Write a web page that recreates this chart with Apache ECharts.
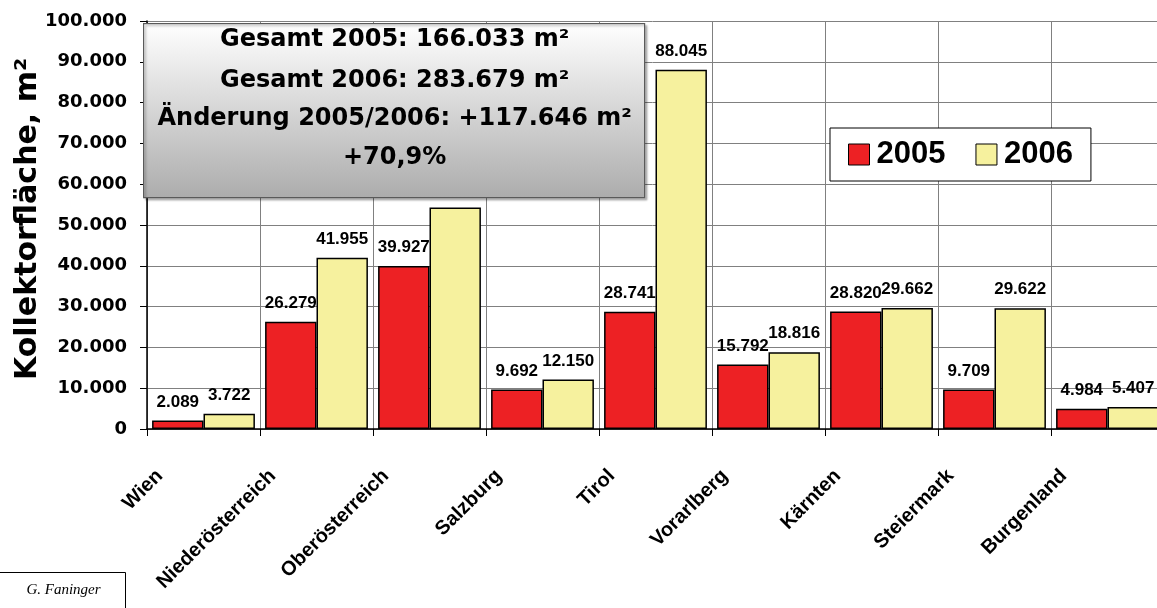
<!DOCTYPE html>
<html><head><meta charset="utf-8">
<script src="https://cdn.jsdelivr.net/npm/echarts@6/dist/echarts.min.js"></script>
<style>html,body{margin:0;padding:0;background:#fff}#c{width:1157px;height:608px}</style>
</head><body><div id="c"></div>
<script>
const categories = ['Wien','Niederösterreich','Oberösterreich','Salzburg','Tirol','Vorarlberg','Kärnten','Steiermark','Burgenland'];
const values2005 = [2089, 26279, 39927, 9692, 28741, 15792, 28820, 9709, 4984];
const values2006 = [3722, 41955, 54300, 12150, 88045, 18816, 29662, 29622, 5407];
const seriesNames = ['2005','2006'];
const infoLines = ['Gesamt 2005: 166.033 m²','Gesamt 2006: 283.679 m²','Änderung 2005/2006: +117.646 m²','+70,9%'];
const yTicks = {min:0, max:100000, interval:10000};

const fmt = v => String(v).replace(/\B(?=(\d{3})+(?!\d))/g, '.');
const FONT = '"Liberation Sans", Arial, sans-serif';
const WIDE = '"DejaVu Sans", Verdana, sans-serif';
const chart = echarts.init(document.getElementById('c'), null, {renderer:'canvas'});
const labelCfg = {show:true, position:'top', distance:10, formatter:p=>fmt(p.value), color:'#000', fontFamily:FONT, fontWeight:'bold', fontSize:17};
chart.setOption({
  animation:false,
  textStyle:{fontFamily:FONT},
  grid:{left:147, top:21, bottom:179, width:1017, containLabel:false, outerBoundsMode:'none'},
  legend:{
    left:830, top:128, width:270, height:52, padding:[11,18,11,18], itemGap:30,
    backgroundColor:'#fff', borderColor:'#000', borderWidth:1,
    itemWidth:21, itemHeight:21, icon:'rect',
    itemStyle:{borderColor:'#000', borderWidth:1},
    textStyle:{fontSize:31, fontWeight:'bold', color:'#000', fontFamily:FONT, padding:[0,0,0,2]},
    data:seriesNames
  },
  xAxis:{
    type:'category', data:categories,
    axisLine:{lineStyle:{color:'#000', width:1.5}},
    axisTick:{show:true, length:7, lineStyle:{color:'#000'}},
    splitLine:{show:true, lineStyle:{color:'#808080', width:1}},
    axisLabel:{interval:0, rotate:45, margin:0, padding:[0,62,0,0], color:'#000', fontWeight:'bold', fontSize:20, fontFamily:FONT}
  },
  yAxis:{
    type:'value', min:yTicks.min, max:yTicks.max, interval:yTicks.interval,
    name:'Kollektorfläche, m²', nameLocation:'middle', nameGap:104, nameRotate:90, nameMoveOverlap:false,
    nameTextStyle:{fontSize:30, fontWeight:'bold', color:'#000', fontFamily:WIDE, padding:[0,0,0,12]},
    axisLine:{show:true, lineStyle:{color:'#000', width:1.5}},
    axisTick:{show:true, length:7, lineStyle:{color:'#000'}},
    splitLine:{show:true, lineStyle:{color:'#808080', width:1}},
    axisLabel:{margin:20, formatter:v=>fmt(v), color:'#000', fontWeight:'bold', fontSize:18, fontFamily:WIDE}
  },
  series:[
    {name:seriesNames[0], type:'bar', data:values2005, barGap:'0%', barCategoryGap:'9%',
     itemStyle:{color:'#ED2124', borderColor:'#000', borderWidth:1.5}, label:labelCfg},
    {name:seriesNames[1], type:'bar', data:values2006, barGap:'0%', barCategoryGap:'9%',
     itemStyle:{color:'#F6F19E', borderColor:'#000', borderWidth:1.5}, label:labelCfg}
  ],
  graphic:[
    {type:'group', left:143, top:23, z:100, children:[
      {type:'rect', shape:{x:0,y:0,width:501,height:174},
       style:{fill:new echarts.graphic.LinearGradient(0,0,0,1,[{offset:0,color:'#ffffff'},{offset:1,color:'#acacac'}]),
              stroke:'#5a5a5a', lineWidth:1.2, shadowColor:'rgba(0,0,0,0.25)', shadowOffsetX:2, shadowOffsetY:2, shadowBlur:2}, z:100},
      {type:'text', x:251, y:16, z:101, style:{text:infoLines[0], fill:'#000', font:'bold 24px '+WIDE, textAlign:'center', textVerticalAlign:'middle'}},
      {type:'text', x:251, y:57, z:101, style:{text:infoLines[1], fill:'#000', font:'bold 24px '+WIDE, textAlign:'center', textVerticalAlign:'middle'}},
      {type:'text', x:251, y:95, z:101, style:{text:infoLines[2], fill:'#000', font:'bold 24px '+WIDE, textAlign:'center', textVerticalAlign:'middle'}},
      {type:'text', x:251, y:134, z:101, style:{text:infoLines[3], fill:'#000', font:'bold 24px '+WIDE, textAlign:'center', textVerticalAlign:'middle'}}
    ]},
    {type:'group', left:-1, top:572, z:100, children:[
      {type:'rect', shape:{x:0,y:0,width:126,height:40}, style:{fill:'#fff', stroke:'#000', lineWidth:1}},
      {type:'text', x:64, y:18, style:{text:'G. Faninger', fill:'#000', font:'italic 15px "Liberation Serif", "DejaVu Serif", serif', textAlign:'center', textVerticalAlign:'middle'}}
    ]}
  ]
});
</script></body></html>
